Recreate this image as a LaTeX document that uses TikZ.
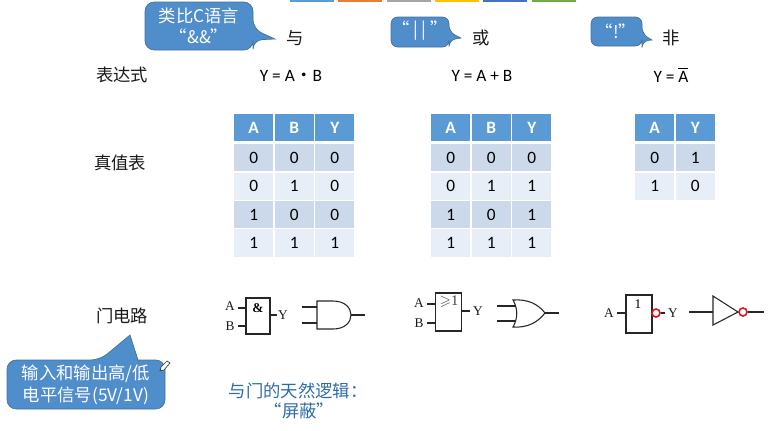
\documentclass[tikz,border=0pt]{standalone}
\usepackage{amsmath}
\usepackage{amssymb}
\usepackage{fontspec}
\setmainfont{Carlito}
\newfontfamily\cjk{Noto Sans CJK SC}
\newfontfamily\gatefont{Liberation Serif}
\usetikzlibrary{positioning,calc}
\definecolor{headblue}{HTML}{5B9BD5}
\definecolor{banddark}{HTML}{CBD9EA}
\definecolor{bandlight}{HTML}{E8EEF7}
\definecolor{bubbleblue}{HTML}{4F8DCB}
\definecolor{bubbleline}{HTML}{41719C}
\definecolor{notered}{HTML}{D8141C}
\definecolor{noteblue}{HTML}{2E6CA8}
\tikzset{
  label cn/.style={font=\cjk\fontsize{13}{15}\selectfont,text=black!90},
  formula/.style={font=\fontsize{13}{15}\selectfont,text=black},
  bubble/.style={draw=bubbleline,fill=bubbleblue,line width=0.5pt},
  bubble text/.style={font=\cjk\fontsize{13}{16}\selectfont,text=white,align=center},
  cell/.style={minimum width=29.2pt,minimum height=20.4pt,inner sep=0pt,font=\fontsize{13}{15}\selectfont,text=black},
  head/.style={cell,fill=headblue,text=white,font=\bfseries\fontsize{13}{15}\selectfont},
  gate/.style={draw=black!85,line width=0.8pt,inner sep=0pt},
  pin/.style={draw=black!85,line width=0.8pt},
  pin label/.style={font=\gatefont\fontsize{10}{12}\selectfont,text=black!90},
  invert/.style={circle,draw=notered,line width=1.2pt,minimum size=6pt,inner sep=0pt},
}
\begin{document}
\begin{tikzpicture}[x=0.75pt,y=-0.75pt]
  \useasboundingbox (0,0) rectangle (784,430);
  % colour strip along the top edge
  \foreach \barx/\barcol in {290/5B9BD5,338/ED7D31,387/A5A5A5,435/FFC000,483/4472C4,532/70AD47} {
    \definecolor{barcolor}{HTML}{\barcol}
    \fill[barcolor] (\barx,0) rectangle ++(44,2);
  }
  % row headings
  \node[label cn] (exprhead) at (122,75) {表达式};
  \node[label cn] (tablehead) at (120,163) {真值表};
  \node[label cn] (circuithead) at (122,316) {门电路};
  % column headings
  \node[label cn] (andname) at (295,38) {与};
  \node[label cn] (orname) at (481,38) {或};
  \node[label cn] (notname) at (671,38) {非};
  % formulas
  \node[formula] (andexpr) at (291,76) {Y = A\,{\cjk\kern-0.15em·\kern-0.15em}\,B};
  \node[formula] (orexpr) at (482,76) {Y = A + B};
  \node[formula] (notexpr) at (671,75) {Y = $\overline{\mathrm{A}}$};
  % callouts
  \draw[bubble,rounded corners=7] (145,2) -- (253,2) -- (253,29) [sharp corners] -- (275,39) [rounded corners=7] -- (253,40) -- (253,50) -- (145,50) -- cycle;
  \node[bubble text] (andnote) at (199,25.5) {类比C语言\\“\&\&”};
  \draw[bubble,rounded corners=5] (391,17) -- (449,17) -- (449,32) [sharp corners] -- (461,38) [rounded corners=5] -- (449,40) -- (449,47) -- (391,47) -- cycle;
  \node[bubble text] (ornote) at (420,31) {“ | | ”};
  \draw[bubble,rounded corners=5] (591,17) -- (642,17) -- (642,34) [sharp corners] -- (652,40) [rounded corners=5] -- (642,41) -- (642,46) -- (591,46) -- cycle;
  \node[bubble text] (notnote) at (616,31) {“!”};
  \draw[bubble,rounded corners=7] (7,360) -- (100,360) [sharp corners] -- (130,335) -- (138,360) [rounded corners=7] -- (165,360) -- (165,409) -- (7,409) -- cycle;
  \node[bubble text] (signalnote) at (86,385) {输入和输出高/低\\电平信号(5V/1V)};
  % pen cursor beside the callout
  \draw[black!80,fill=white,line width=0.5pt] (160,371) -- (161,367) -- (167,361) -- (170,363) -- (164,370) -- cycle;
  % truth tables
  \foreach \tabx/\tabname/\tabrows in {
      234/and/{0/0/0,0/1/0,1/0/0,1/1/1},
      431/or/{0/0/0,0/1/1,1/0/1,1/1/1}} {
    \node[head,anchor=north west] (\tabname A) at (\tabx,114) {A};
    \node[head,right=0.8pt of \tabname A] (\tabname B) {B};
    \node[head,right=0.8pt of \tabname B] (\tabname Y) {Y};
    \foreach \va/\vb/\vy [count=\rowno] in \tabrows {
      \pgfmathsetmacro{\rowy}{144+(\rowno-1)*28.4}
      \pgfmathtruncatemacro{\band}{mod(\rowno,2)}
      \ifnum\band=1 \def\bandcol{banddark}\else\def\bandcol{bandlight}\fi
      \node[cell,fill=\bandcol,anchor=north west] (\tabname a\rowno) at (\tabx,\rowy) {\va};
      \node[cell,fill=\bandcol,right=0.8pt of \tabname a\rowno] (\tabname b\rowno) {\vb};
      \node[cell,fill=\bandcol,right=0.8pt of \tabname b\rowno] (\tabname y\rowno) {\vy};
    }
  }
  \node[head,anchor=north west] (notA) at (635,114) {A};
  \node[head,right=0.8pt of notA] (notY) {Y};
  \node[cell,fill=banddark,anchor=north west] (nota1) at (635,144) {0};
  \node[cell,fill=banddark,right=0.8pt of nota1] (noty1) {1};
  \node[cell,fill=bandlight,anchor=north west] (nota2) at (635,172.4) {1};
  \node[cell,fill=bandlight,right=0.8pt of nota2] (noty2) {0};
  % AND symbols
  \node[gate,minimum width=18pt,minimum height=27pt] (andbox) at (258,316) {};
  \node[font=\gatefont\bfseries\fontsize{10}{12}\selectfont] (andsign) at (258,308) {\&};
  \node[pin label] (andinA) at (230,306) {A};
  \node[pin label] (andinB) at (230,326) {B};
  \node[pin label] (andout) at (283,315) {Y};
  \draw[pin] (238,308) -- (andbox.west |- 0,308);
  \draw[pin] (238,326) -- (andbox.west |- 0,326);
  \draw[pin] (andbox.east |- 0,315) -- (277,315);
  \coordinate (andtip) at (351,315);
  \draw[gate] (317,301) -- (333,301) .. controls (345,301) and (351,308) .. (andtip) .. controls (351,322) and (345,329) .. (333,329) -- (317,329) -- cycle;
  \draw[pin] (302,307) -- (317,307);
  \draw[pin] (302,323) -- (317,323);
  \draw[pin] (andtip) -- (365,315);
  % OR symbols
  \node[gate,minimum width=20pt,minimum height=28.5pt] (orbox) at (448.5,312) {};
  \node[font=\gatefont\fontsize{11}{12}\selectfont,text=black!75] (orsign) at (449,302) {$\geqslant$1};
  \node[pin label] (orinA) at (419,303) {A};
  \node[pin label] (orinB) at (419,323) {B};
  \node[pin label] (orout) at (478,311) {Y};
  \draw[pin] (427,304) -- (orbox.west |- 0,304);
  \draw[pin] (427,323) -- (orbox.west |- 0,323);
  \draw[pin] (orbox.east |- 0,311) -- (470,311);
  \coordinate (ortip) at (545,313);
  \draw[gate] (513,300) .. controls (528,299) and (538,304) .. (ortip) .. controls (538,322) and (528,328) .. (513,327) .. controls (518,318) and (518,309) .. (513,300) -- cycle;
  \draw[pin] (497,306) -- (516,306);
  \draw[pin] (497,321) -- (516,321);
  \draw[pin] (ortip) -- (559,313);
  % NOT symbols
  \node[gate,minimum width=19.5pt,minimum height=28.5pt] (notbox) at (639,314) {};
  \node[font=\gatefont\fontsize{10}{12}\selectfont] (notsign) at (638,304) {1};
  \node[pin label] (notin) at (609,313) {A};
  \node[pin label] (notout) at (673,313) {Y};
  \node[invert] (notdot) at (656,313) {};
  \draw[pin] (617,313) -- (notbox.west |- 0,313);
  \draw[pin] (notdot) -- (665,313);
  \draw[gate] (713,296) -- (713,325) -- (738,312) -- cycle;
  \node[invert] (notbub) at (743,312) {};
  \draw[pin] (689,312) -- (713,312);
  \draw[pin] (notbub) -- (764,312);
  % note under the AND column
  \node[font=\cjk\fontsize{13}{15}\selectfont,text=noteblue,align=center] (masknote) at (298,400.5) {与门的天然逻辑：\\\kern2pt“屏蔽”};
\end{tikzpicture}
\end{document}
